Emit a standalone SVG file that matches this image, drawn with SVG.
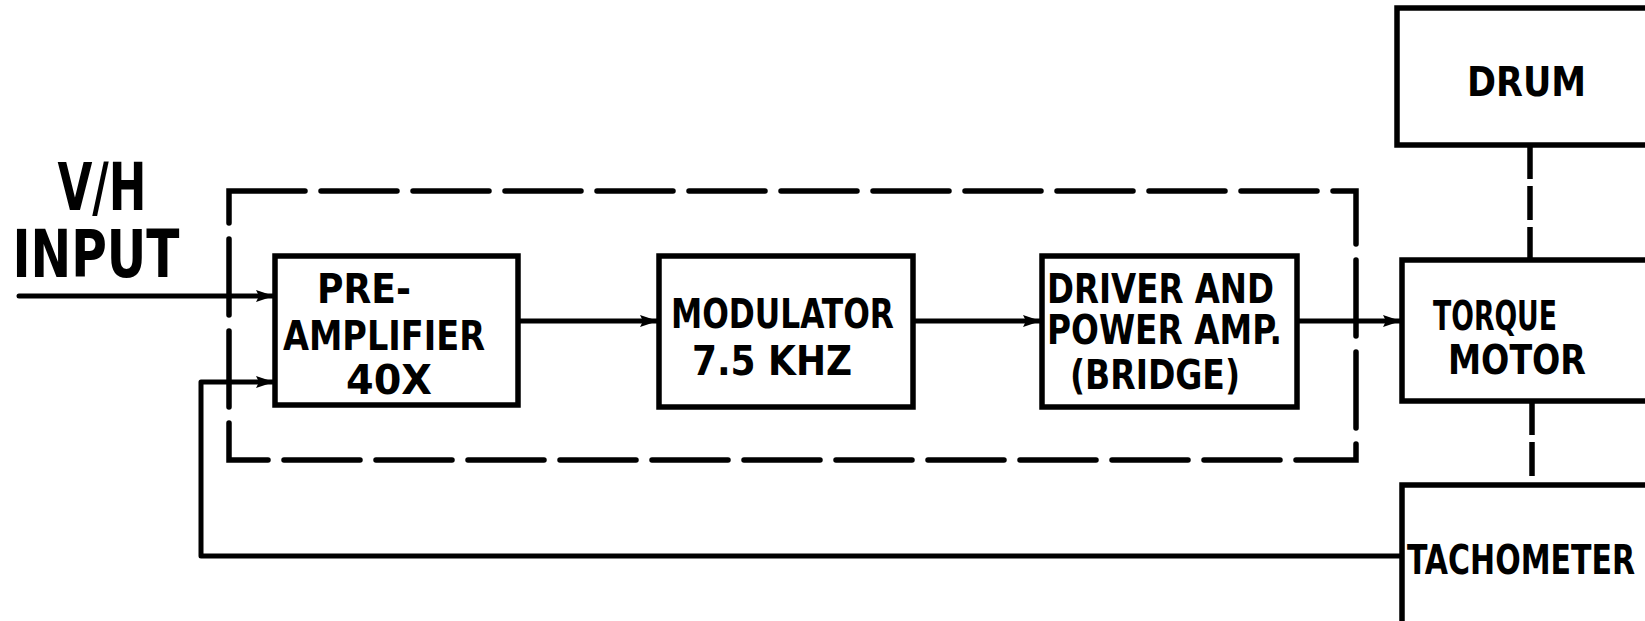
<svg xmlns="http://www.w3.org/2000/svg" width="1645" height="621" viewBox="0 0 1645 621">
<style>
.box{fill:#fff;stroke:#000;stroke-width:5.5;stroke-linejoin:miter}
.ln{fill:none;stroke:#000;stroke-width:5;stroke-linecap:round;stroke-linejoin:round}
.dash{fill:none;stroke:#000;stroke-width:5.5;stroke-linecap:round;stroke-dasharray:76 16}
.cpl{fill:none;stroke:#000;stroke-width:5.5;stroke-dasharray:34 7}
.t{font-family:"Liberation Sans Narrow","DejaVu Sans Condensed","Liberation Sans",sans-serif;font-weight:bold;fill:#000;font-size:40px}
.big{font-size:66px}
</style>
<defs>
<marker id="ah" viewBox="0 0 18 12" refX="17" refY="6" markerWidth="18" markerHeight="12" markerUnits="userSpaceOnUse" orient="auto">
<path d="M0,0 L18,6 L0,12 L3,6 Z" fill="#000"/>
</marker>
</defs>
<rect width="1645" height="621" fill="#fff"/>
<g id="group-boundary">
<path class="dash" d="M229,191 H1356 V460 H229 Z"/>
</g>
<g id="connectors">
<path class="ln" d="M19,296 H273" marker-end="url(#ah)"/>
<path class="ln" d="M1402,556 H201 V382 H273" marker-end="url(#ah)"/>
<path class="ln" d="M518,321 H657" marker-end="url(#ah)"/>
<path class="ln" d="M913,321 H1040" marker-end="url(#ah)"/>
<path class="ln" d="M1297,321 H1400" marker-end="url(#ah)"/>
<path class="cpl" d="M1530,145 V260"/>
<path class="cpl" d="M1532,401 V485"/>
</g>
<g id="input-label">
<text class="t big" x="102" y="210" text-anchor="middle" textLength="89" lengthAdjust="spacingAndGlyphs">V/H</text>
<text class="t big" x="96" y="277" text-anchor="middle" textLength="167" lengthAdjust="spacingAndGlyphs">INPUT</text>
</g>
<g id="preamp">
<rect class="box" x="275" y="256" width="243" height="149"/>
<text class="t" x="317" y="303" textLength="94" lengthAdjust="spacingAndGlyphs">PRE-</text>
<text class="t" x="283" y="350" textLength="202" lengthAdjust="spacingAndGlyphs">AMPLIFIER</text>
<text class="t" x="346" y="394" textLength="86" lengthAdjust="spacingAndGlyphs">40X</text>
</g>
<g id="modulator">
<rect class="box" x="659" y="256" width="254" height="151"/>
<text class="t" x="671" y="328" textLength="223" lengthAdjust="spacingAndGlyphs">MODULATOR</text>
<text class="t" x="692" y="375" textLength="160" lengthAdjust="spacingAndGlyphs">7.5 KHZ</text>
</g>
<g id="driver">
<rect class="box" x="1042" y="256" width="255" height="151"/>
<text class="t" x="1047" y="303" font-size="34" textLength="227" lengthAdjust="spacingAndGlyphs">DRIVER AND</text>
<text class="t" x="1047" y="344" font-size="34" textLength="235" lengthAdjust="spacingAndGlyphs">POWER AMP.</text>
<text class="t" x="1070" y="389" font-size="38" textLength="170" lengthAdjust="spacingAndGlyphs">(BRIDGE)</text>
</g>
<g id="drum">
<rect class="box" x="1397" y="8" width="260" height="137"/>
<text class="t" x="1467" y="96" textLength="119" lengthAdjust="spacingAndGlyphs">DRUM</text>
</g>
<g id="torque-motor">
<rect class="box" x="1402" y="260" width="255" height="141"/>
<text class="t" x="1433" y="330" textLength="124" lengthAdjust="spacingAndGlyphs">TORQUE</text>
<text class="t" x="1448" y="374" textLength="138" lengthAdjust="spacingAndGlyphs">MOTOR</text>
</g>
<g id="tachometer">
<rect class="box" x="1402" y="485" width="255" height="145"/>
<text class="t" x="1407" y="574" textLength="228" lengthAdjust="spacingAndGlyphs">TACHOMETER</text>
</g>
</svg>
